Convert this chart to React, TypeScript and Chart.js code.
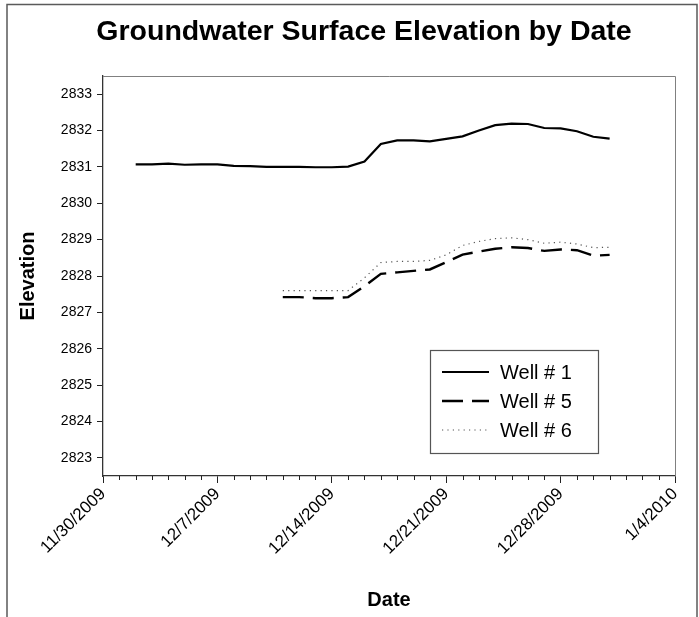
import React, { useEffect, useRef } from "react";
import { Chart, registerables } from "chart.js";

Chart.register(...registerables);

// ---------- data ----------
const TITLE = "Groundwater Surface Elevation by Date";
const X_TITLE = "Date";
const Y_TITLE = "Elevation";
const START_DATE = "11/30/2009";
const X_TICK_LABELS = ["11/30/2009", "12/7/2009", "12/14/2009", "12/21/2009", "12/28/2009", "1/4/2010"];
const Y_TICKS = [2823, 2824, 2825, 2826, 2827, 2828, 2829, 2830, 2831, 2832, 2833];
const Y_MIN = 2822.5;
const Y_MAX = 2833.5;

const WELL1_DATES = [
  "12/2/2009", "12/3/2009", "12/4/2009", "12/5/2009", "12/6/2009", "12/7/2009", "12/8/2009", "12/9/2009",
  "12/10/2009", "12/11/2009", "12/12/2009", "12/13/2009", "12/14/2009", "12/15/2009", "12/16/2009",
  "12/17/2009", "12/18/2009", "12/19/2009", "12/20/2009", "12/21/2009", "12/22/2009", "12/23/2009",
  "12/24/2009", "12/25/2009", "12/26/2009", "12/27/2009", "12/28/2009", "12/29/2009", "12/30/2009", "12/31/2009",
];
const WELL1 = [
  2831.07, 2831.07, 2831.09, 2831.06, 2831.07, 2831.07, 2831.03, 2831.02, 2831.0, 2831.0, 2831.0, 2830.99,
  2830.99, 2831.01, 2831.15, 2831.63, 2831.73, 2831.73, 2831.7, 2831.77, 2831.84, 2832.0, 2832.15, 2832.19,
  2832.18, 2832.07, 2832.06, 2831.98, 2831.83, 2831.78,
];
const WELL56_DATES = [
  "12/11/2009", "12/12/2009", "12/13/2009", "12/14/2009", "12/15/2009", "12/16/2009", "12/17/2009",
  "12/18/2009", "12/19/2009", "12/20/2009", "12/21/2009", "12/22/2009", "12/23/2009", "12/24/2009",
  "12/25/2009", "12/26/2009", "12/27/2009", "12/28/2009", "12/29/2009", "12/30/2009", "12/31/2009",
];
const WELL5 = [
  2827.42, 2827.42, 2827.39, 2827.39, 2827.42, 2827.72, 2828.06, 2828.1, 2828.14, 2828.18, 2828.38,
  2828.59, 2828.67, 2828.75, 2828.79, 2828.77, 2828.69, 2828.73, 2828.71, 2828.56, 2828.58,
];
const WELL6 = [
  2827.6, 2827.6, 2827.6, 2827.6, 2827.6, 2827.95, 2828.37, 2828.4, 2828.4, 2828.43, 2828.58,
  2828.84, 2828.95, 2829.03, 2829.05, 2829.0, 2828.9, 2828.93, 2828.88, 2828.78, 2828.79,
];
const SERIES_LABELS = ["Well # 1", "Well # 5", "Well # 6"];

// ---------- helpers ----------
const FONT = "'Liberation Sans', Arial, sans-serif";
const dayOf = (s: string) => {
  const [m, d, y] = s.split("/").map(Number);
  const [m0, d0, y0] = START_DATE.split("/").map(Number);
  return Math.round((Date.UTC(y, m - 1, d) - Date.UTC(y0, m0 - 1, d0)) / 86400000);
};
const toPoints = (dates: string[], vals: number[]) => dates.map((d, i) => ({ x: dayOf(d), y: vals[i] }));

const decor = {
  id: "decor",
  beforeDraw(chart: any) {
    const { ctx, width, height } = chart;
    ctx.save();
    ctx.fillStyle = "#fff";
    ctx.fillRect(0, 0, width, height);
    ctx.strokeStyle = "#5a5a5a";
    ctx.lineWidth = 1.5;
    ctx.strokeRect(7, 4.5, 690, height + 20);
    ctx.restore();
  },
  afterDraw(chart: any) {
    const { ctx, chartArea } = chart;
    const xs = chart.scales.x;
    ctx.save();
    // title
    ctx.fillStyle = "#000";
    ctx.font = `bold 28.5px ${FONT}`;
    ctx.textAlign = "center";
    ctx.textBaseline = "middle";
    ctx.fillText(TITLE, 364, 32);
    // plot frame top/right
    ctx.strokeStyle = "#808080";
    ctx.lineWidth = 1;
    ctx.beginPath();
    ctx.moveTo(chartArea.left, Math.round(chartArea.top) + 0.5);
    ctx.lineTo(Math.round(chartArea.right) + 0.5, Math.round(chartArea.top) + 0.5);
    ctx.lineTo(Math.round(chartArea.right) + 0.5, chartArea.bottom);
    ctx.stroke();
    // minor ticks
    ctx.strokeStyle = "#222";
    ctx.beginPath();
    for (let v = xs.min; v <= xs.max; v++) {
      if (v % 7 === 0) continue;
      const px = Math.round(xs.getPixelForValue(v)) + 0.5;
      ctx.moveTo(px, chartArea.bottom);
      ctx.lineTo(px, chartArea.bottom + 4);
    }
    ctx.stroke();
    // legend
    const bx = 430, by = 350, bw = 168, bh = 103;
    ctx.fillStyle = "#fff";
    ctx.fillRect(bx, by, bw, bh);
    ctx.strokeStyle = "#555";
    ctx.lineWidth = 1.2;
    ctx.strokeRect(bx + 0.5, by + 0.5, bw, bh);
    const rows = [372, 401, 430];
    chart.data.datasets.forEach((ds: any, i: number) => {
      const y = rows[i];
      ctx.save();
      ctx.strokeStyle = ds.borderColor;
      ctx.lineWidth = ds.borderWidth;
      ctx.setLineDash(ds.borderDash || []);
      ctx.beginPath();
      ctx.moveTo(442, y);
      ctx.lineTo(489, y);
      ctx.stroke();
      ctx.restore();
      ctx.fillStyle = "#000";
      ctx.font = `20px ${FONT}`;
      ctx.textAlign = "left";
      ctx.textBaseline = "middle";
      ctx.fillText(ds.label, 500, y + 1);
    });
    ctx.restore();
  },
};

export default function App() {
  const ref = useRef<HTMLCanvasElement | null>(null);
  useEffect(() => {
    if (!ref.current) return;
    const chart = new Chart(ref.current, {
      type: "line",
      data: {
        datasets: [
          {
            label: SERIES_LABELS[0],
            data: toPoints(WELL1_DATES, WELL1),
            borderColor: "#000",
            borderWidth: 2.2,
            pointRadius: 0,
            tension: 0,
          },
          {
            label: SERIES_LABELS[1],
            data: toPoints(WELL56_DATES, WELL5),
            borderColor: "#000",
            borderWidth: 2.4,
            borderDash: [21, 9],
            pointRadius: 0,
            tension: 0,
          },
          {
            label: SERIES_LABELS[2],
            data: toPoints(WELL56_DATES, WELL6),
            borderColor: "#555",
            borderWidth: 1.2,
            borderDash: [1.2, 4.2],
            pointRadius: 0,
            tension: 0,
          },
        ],
      },
      options: {
        responsive: false,
        animation: false,
        devicePixelRatio: 1,
        layout: { padding: { left: 0, right: 24, top: 76, bottom: 0 } },
        plugins: {
          legend: { display: false },
          title: { display: false },
          tooltip: { enabled: false },
        },
        scales: {
          x: {
            type: "linear",
            min: 0,
            max: 35,
            afterFit: (s: any) => {
              s.height = 141;
            },
            ticks: {
              stepSize: 7,
              autoSkip: false,
              minRotation: 45,
              maxRotation: 45,
              color: "#000",
              padding: 1,
              font: { family: FONT, size: 17 },
              callback: (v: any) => X_TICK_LABELS[Math.round(Number(v) / 7)] ?? "",
            },
            grid: { drawOnChartArea: false, tickLength: 7, tickColor: "#222", tickWidth: 1 },
            border: { color: "#333", width: 1.3 },
            title: {
              display: true,
              text: X_TITLE,
              color: "#000",
              font: { family: FONT, size: 20, weight: "bold" },
              padding: { top: 0, bottom: 5 },
            },
          },
          y: {
            type: "linear",
            min: Y_MIN,
            max: Y_MAX,
            afterFit: (s: any) => {
              s.width = 103;
            },
            afterBuildTicks: (s: any) => {
              s.ticks = Y_TICKS.map((v) => ({ value: v }));
            },
            ticks: {
              color: "#000",
              padding: 5,
              font: { family: FONT, size: 14 },
              callback: (v: any) => String(v),
            },
            grid: { drawOnChartArea: false, tickLength: 6, tickColor: "#222", tickWidth: 1 },
            border: { color: "#333", width: 1.3 },
            title: {
              display: true,
              text: Y_TITLE,
              color: "#000",
              font: { family: FONT, size: 20, weight: "bold" },
              padding: { top: 16, bottom: 0 },
            },
          },
        },
      },
      plugins: [decor],
    } as any);
    return () => chart.destroy();
  }, []);
  return (
    <div style={{ position: "absolute", left: 0, top: 0, width: 699, height: 617 }}>
      <canvas ref={ref} width={699} height={617} style={{ display: "block" }} />
    </div>
  );
}
